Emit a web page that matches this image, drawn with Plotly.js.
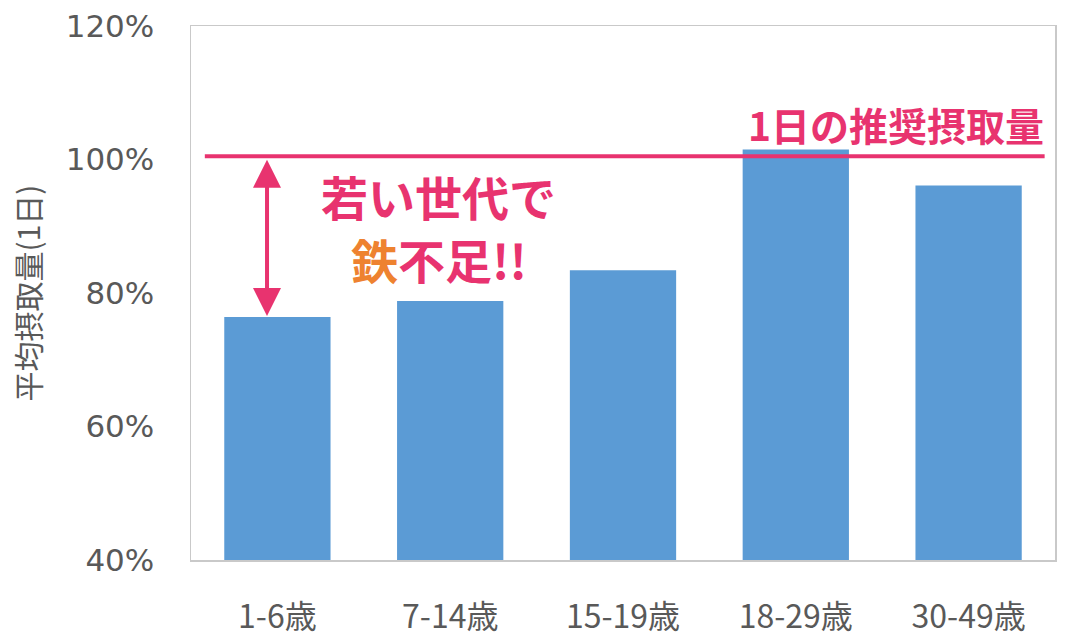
<!DOCTYPE html>
<html>
<head>
<meta charset="utf-8">
<script src="https://cdn.plot.ly/plotly-3.0.1.min.js"></script>
<style>
html,body{margin:0;padding:0;background:#fff;}
#chart{width:1071px;height:639px;}
</style>
</head>
<body>
<div id="chart"></div>
<script>
// 年代別 鉄の平均摂取量(推奨量に対する%)
const ageGroups=["1-6歳","7-14歳","15-19歳","18-29歳","30-49歳"];
const intakeRates=[76.4,78.8,83.4,101.5,96.1];
const recommended=100.5;
const yTicks=[40,60,80,100,120];

const pink="#e8336f";
const jpFont="'Noto Sans CJK JP', 'Noto Sans', sans-serif";

const barTrace={
    x:ageGroups,
    y:intakeRates,
    type:"bar",
    marker:{color:"#5b9bd5"},
    hoverinfo:"skip"
};

const layout={
    width:1071,
    height:639,
    paper_bgcolor:"#ffffff",
    plot_bgcolor:"#ffffff",
    showlegend:false,
    bargap:0.385,
    margin:{l:191,r:16,t:26,b:79,pad:0},
    font:{family:jpFont,color:"#595959"},
    xaxis:{
        type:"category",
        showline:true,
        mirror:true,
        linecolor:"#c9c9c9",
        linewidth:1.5,
        ticks:"",
        ticklabelstandoff:28,
        tickfont:{size:32,color:"#595959",family:jpFont}
    },
    yaxis:{
        range:[40,120],
        tickvals:yTicks,
        ticktext:yTicks.map(v=>v+"%"),
        showgrid:false,
        zeroline:false,
        showline:true,
        mirror:true,
        linecolor:"#c9c9c9",
        linewidth:1.5,
        ticks:"",
        ticklabelstandoff:29,
        tickfont:{size:31,color:"#595959",family:"'DejaVu Sans', sans-serif"},
        title:{text:"平均摂取量(1日)",font:{size:30,color:"#595959"},standoff:16}
    },
    shapes:[
        {
            type:"line",
            xref:"paper",yref:"y",
            x0:0.016,x1:0.988,
            y0:recommended,y1:recommended,
            line:{color:pink,width:4}
        }
    ],
    annotations:[
        {
            // 推奨量との差を示す矢印
            x:-0.06,y:intakeRates[0],
            ax:-0.06,ay:recommended,
            xref:"x",yref:"y",axref:"x",ayref:"y",
            text:"",
            showarrow:true,
            arrowside:"end+start",
            arrowhead:2,
            arrowsize:1.4,
            arrowwidth:4,
            arrowcolor:pink,
            standoff:1,
            startstandoff:2
        },
        {
            xref:"paper",yref:"paper",
            x:0.99,y:0.816,
            xanchor:"right",yanchor:"middle",
            text:"<b>1日の推奨摂取量</b>",
            showarrow:false,
            font:{size:39,color:pink,family:jpFont}
        },
        {
            xref:"paper",yref:"paper",
            x:0.286,y:0.683,
            xanchor:"center",yanchor:"middle",
            text:"<b>若い世代で</b>",
            showarrow:false,
            font:{size:47,color:pink,family:jpFont}
        },
        {
            xref:"paper",yref:"paper",
            x:0.287,y:0.565,
            xanchor:"center",yanchor:"middle",
            text:"<b><span style='color:#ee8230'>鉄</span>不足!!</b>",
            showarrow:false,
            font:{size:47,color:pink,family:jpFont}
        }
    ]
};

Plotly.newPlot("chart",[barTrace],layout,{displayModeBar:false,staticPlot:true});
</script>
</body>
</html>
